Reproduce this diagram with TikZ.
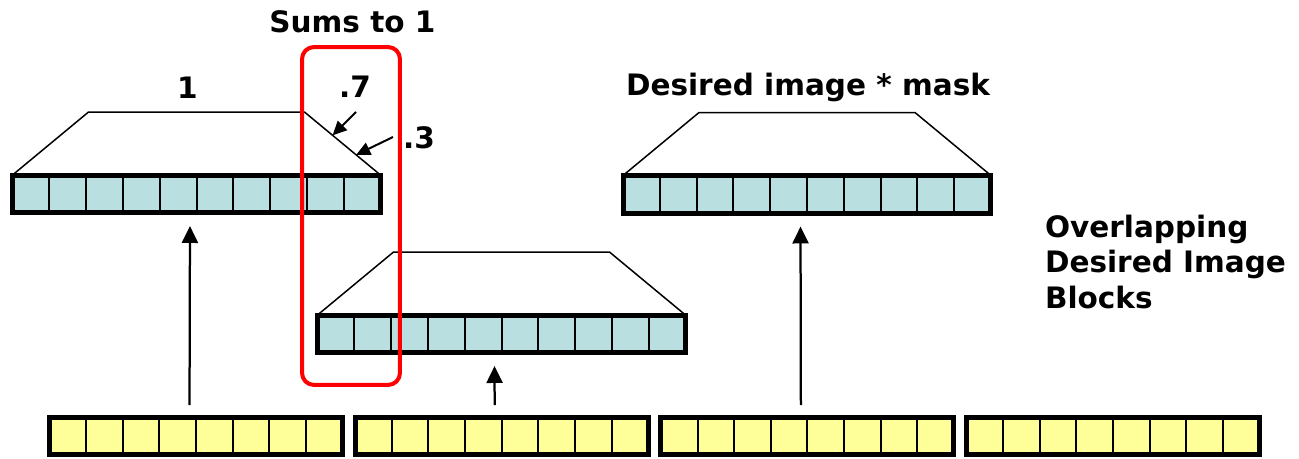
\documentclass[tikz,border=0pt]{standalone}
\usepackage{fontspec}
\setmainfont{DejaVu Sans}
\usepackage{tikz}
\usetikzlibrary{positioning}
\usetikzlibrary{calc}
\usetikzlibrary{arrows.meta}
\definecolor{cellblue}{RGB}{186,223,224}
\definecolor{cellyellow}{RGB}{255,255,153}
\tikzset{
	every node/.style={anchor=base,align=left,inner sep=0pt,outer sep=0pt,
		font=\bfseries\fontsize{16.8}{20.1}\selectfont},
	bluebar/.style={draw, anchor=center, line width=0.1cm, fill=cellblue,
		minimum width=7.36cm, minimum height=0.76cm},
	yellowbar/.style={draw, anchor=center, line width=0.1cm, fill=cellyellow,
		minimum width=5.86cm, minimum height=0.74cm},
	divider/.style={line width=0.04cm},
	roof/.style={line width=0.03cm},
	uparrow/.style={-{Triangle[length=0.34cm,width=0.32cm]}, line width=0.045cm,
		shorten <=0.25cm, shorten >=0.26cm},
	weight/.style={-{Triangle[length=0.28cm,width=0.26cm]}, line width=0.04cm},
	sumbox/.style={draw=red, anchor=center, line width=0.08cm, rounded corners=0.24cm,
		minimum width=1.96cm, minimum height=6.76cm}
}

\begin{document}
\begin{tikzpicture}[x=0.02cm, y=-0.02cm]
	\useasboundingbox (0,0) rectangle (1299,459);

	% Input blocks
	\foreach \i in {1,...,4} {
		\node (y\i) [yellowbar] at ({196+305.7*(\i-1)}, 436) {};
		\foreach \k in {1,...,7}
			\draw[divider] ($(y\i.north west)!\k/8!(y\i.north east)$) -- ($(y\i.south west)!\k/8!(y\i.south east)$);
	}

	% Desired image blocks
	\node (b1) [bluebar] at (196.5,194) {};
	\node (b2) [bluebar] at (501.5,334) {};
	\node (b3) [bluebar] at (807,194.5) {};
	\foreach \b in {b1,b2,b3} {
		\foreach \k in {1,...,9}
			\draw[divider] ($(\b.north west)!\k/10!(\b.north east)$) -- ($(\b.south west)!\k/10!(\b.south east)$);
		\draw[roof] (\b.north west) -- ++(76,-63) coordinate (\b-tl)
			-- ($(\b.north east)+(-76,-63)$) coordinate (\b-tr) -- (\b.north east);
	}

	\path[uparrow] ([xshift=-0.13cm]y1.north) edge ([xshift=-0.13cm]b1.south);
	\path[uparrow] ([xshift=-0.14cm]y2.north) edge ([xshift=-0.14cm]b2.south);
	\path[uparrow] ([xshift=-0.13cm]y3.north) edge ([xshift=-0.13cm]b3.south);

	% Labels
	\node (one) at (187.5,98.5) {1};
	\node (w7) at (355,98) {.7};
	\node (w3) at (419,149) {.3};
	\node (mask) at (808,96) {Desired image * mask};
	\node (ovl) [anchor=north west] at (1045,215) {Overlapping\\Desired Image\\Blocks};

	\coordinate (t7) at (356,112);
	\coordinate (t3) at (393,137);
	\coordinate (h7) at ($(b1-tr)!0.37!(b1.north east)$);
	\coordinate (h3) at ($(b1-tr)!0.68!(b1.north east)$);
	\path[weight] (t7) edge (h7);
	\path[weight] (t3) edge (h3);

	% Overlap
	\node (box) [sumbox] at (351,216) {};
	\node (sums) at (352.5,33) {Sums to 1};
\end{tikzpicture}
\end{document}
